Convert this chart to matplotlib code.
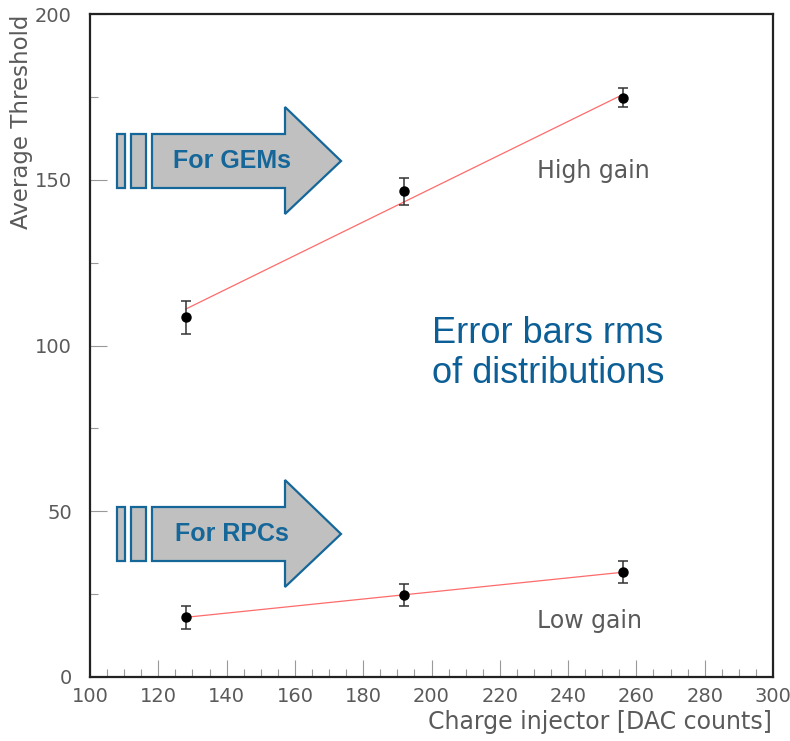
import numpy as np
import matplotlib
matplotlib.use("Agg")
import matplotlib.pyplot as plt
from matplotlib.patches import Polygon, Rectangle
from matplotlib.ticker import MultipleLocator

# ---- data ----
dac = [128, 192, 256]
high_gain = [108.5, 146.5, 174.8]
high_err = [5.0, 4.0, 3.0]
low_gain = [18.0, 24.8, 31.6]
low_err = [3.5, 3.4, 3.3]

W, H = 790, 741
fig = plt.figure(figsize=(W / 100, H / 100), dpi=100)
L, R, T, B = 90, 773, 14, 677
ax = fig.add_axes([L / W, 1 - B / H, (R - L) / W, (B - T) / H])

ax.set_xlim(100, 300)
ax.set_ylim(0, 200)

grey = "#5a5a5a"
for s in ax.spines.values():
    s.set_linewidth(1.6)
    s.set_color("#222222")

ax.xaxis.set_major_locator(MultipleLocator(20))
ax.xaxis.set_minor_locator(MultipleLocator(5))
ax.yaxis.set_major_locator(MultipleLocator(50))
ax.yaxis.set_minor_locator(MultipleLocator(25))
ax.tick_params(which="major", direction="in", length=12, width=0.8, color="#999999",
               labelsize=14, labelcolor=grey, pad=7)
ax.tick_params(which="minor", direction="in", length=6, width=0.8, color="#999999")
ax.tick_params(axis="y", pad=13)

# fits
xs = np.array([dac[0], dac[-1]])
for y, e in [(high_gain, high_err), (low_gain, low_err)]:
    p = np.polyfit(dac, y, 1, w=1 / np.array(e))
    ax.plot(xs, np.polyval(p, xs), color="#ff6b6b", lw=0.9, zorder=2)
    ax.errorbar(dac, y, yerr=e, fmt="o", color="black", ms=6.5, ecolor="#333333",
                elinewidth=1.1, capsize=3.5, capthick=1.1, zorder=3)

fig.text(772 / W, 1 - 722 / H, "Charge injector [DAC counts]", fontsize=17, color=grey,
         ha="right", va="center")
fig.text(22 / W, 1 - 15 / H, "Average Threshold", fontsize=16.5, color=grey,
         rotation=90, ha="center", va="top")

ax.text(247.5, 152.5, "High gain", fontsize=17, color=grey, ha="center", va="center")
ax.text(246.2, 17, "Low gain", fontsize=17, color=grey, ha="center", va="center")

blue = "#0b5f96"
fig.text(432 / W, 1 - 343 / H, "Error bars rms", fontsize=26, color=blue,
         family="Liberation Sans", ha="left", va="baseline")
fig.text(432 / W, 1 - 383 / H, "of distributions", fontsize=26, color=blue,
         family="Liberation Sans", ha="left", va="baseline")

def px(x, y):
    return (x / W, 1 - y / H)

def draw_arrow(dy, label):
    fill = "#c0c0c0"
    edge = "#15679a"
    for x0, x1 in [(117, 125), (131, 146)]:
        a = px(x0, 188 + dy)
        b = px(x1, 134 + dy)
        fig.patches.append(Rectangle(a, b[0] - a[0], b[1] - a[1], transform=fig.transFigure,
                                     facecolor=fill, edgecolor=edge, lw=1.6, zorder=5))
    pts = [(152, 134), (285, 134), (285, 107), (341, 161), (285, 214), (285, 188), (152, 188)]
    pts = [px(x, y + dy) for x, y in pts]
    fig.patches.append(Polygon(pts, closed=True, transform=fig.transFigure,
                               facecolor=fill, edgecolor=edge, lw=1.6, zorder=5))
    fig.text(232 / W, 1 - (161 + dy) / H, label, fontsize=18, fontweight="bold",
             color=edge, family="Liberation Sans", ha="center", va="center", zorder=6)

draw_arrow(0, "For GEMs")
draw_arrow(373, "For RPCs")

fig.savefig("out.png", dpi=100)
